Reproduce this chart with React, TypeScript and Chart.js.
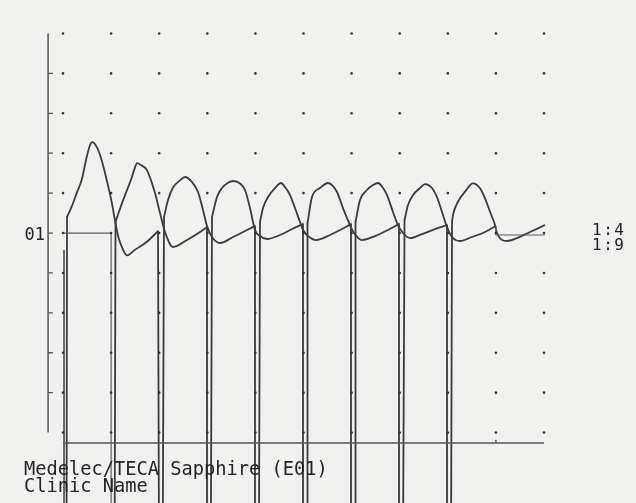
import { useEffect, useRef } from "react";
import { Chart, registerables } from "chart.js";

Chart.register(...registerables);

// Time in ms (20 ms per division), amplitude in mV (5 mV per division)
const GRID_TIMES = [0, 20, 40, 60, 80, 100, 120, 140, 160, 180, 200];
const GRID_AMPS = [-25, -20, -15, -10, -5, 0, 5, 10, 15, 20, 25];
const AXIS_TICK_AMPS = [-20, -15, -10, -5, 0, 5, 10, 15, 20];
const AXIS_TIME = -6.2;
const AXIS_TOP = 25;
const AXIS_BOTTOM = -25;
const BASE_AXIS_AMP = -26.3;
const ARTIFACT_MV = -40; // stimulus artefact runs off the bottom of the screen

const CHANNEL_LABEL = "01";
const GAIN_LABELS = ["1:4", "1:9"];
const FOOTER_LINES = ["Medelec/TECA Sapphire (E01)", "Clinic Name"];

const START_MARKER: [number, number][] = [[0, 0], [20, 0], [20, ARTIFACT_MV]];
const START_LINE: [number, number][] = [[0.42, -2.13], [0.42, ARTIFACT_MV]];
const END_MARKER: [number, number][] = [[180, 0.88], [180, -0.25], [200.4, -0.25]];

const RESPONSE_1: [number, number][] = [
  [1.46, ARTIFACT_MV], [1.66, 2.0], [3.6, 3.3], [5.7, 5.0], [7.8, 6.7], [9.9, 9.6],
  [11.2, 11.0], [12.1, 11.4], [14.0, 10.8], [16.1, 9.1], [18.2, 6.6], [20.3, 3.8],
  [21.6, 1.6], [23.0, -0.5], [25.0, -2.1], [26.6, -2.8], [29.9, -2.1], [34.9, -1.1],
  [39.5, 0.25], [39.92, ARTIFACT_MV],
];
const RESPONSE_2: [number, number][] = [
  [21.46, ARTIFACT_MV], [21.83, 1.4], [24.0, 3.3], [26.1, 5.0], [28.3, 6.7],
  [29.7, 8.0], [30.8, 8.77], [32.5, 8.5], [34.9, 7.89], [38.25, 5.01], [40.33, 2.51],
  [42.41, 0.13], [45.74, -1.75], [51.56, -0.88], [56.96, 0.13], [59.88, 0.75], [60.08, ARTIFACT_MV],
];
const RESPONSE_3: [number, number][] = [
  [41.45, ARTIFACT_MV], [42.0, 2.0], [43.66, 4.14], [45.74, 5.7], [48.65, 6.6], [50.73, 7.02],
  [53.64, 6.39], [56.13, 5.14], [58.21, 2.88], [59.88, 0.88], [61.95, -0.5], [65.28, -1.25],
  [70.69, -0.5], [76.51, 0.38], [79.83, 0.88], [80.04, ARTIFACT_MV],
];
const RESPONSE_4: [number, number][] = [
  [61.45, ARTIFACT_MV], [61.95, 2.0], [64.03, 4.51], [66.11, 5.64], [68.61, 6.3], [70.69, 6.52],
  [73.6, 6.2], [75.68, 5.39], [77.75, 3.13], [79.83, 0.38], [81.91, -0.38], [84.82, -0.75],
  [90.23, -0.25], [95.22, 0.5], [99.79, 1.13], [100.0, ARTIFACT_MV],
];
const RESPONSE_5: [number, number][] = [
  [81.45, ARTIFACT_MV], [81.91, 1.38], [83.16, 3.13], [85.24, 4.51], [88.15, 5.64], [90.64, 6.27],
  [92.31, 5.76], [94.39, 4.76], [96.47, 3.13], [98.54, 1.38], [99.79, 0.38], [101.87, -0.38],
  [105.2, -0.88], [111.02, -0.25], [116.01, 0.5], [119.75, 1.13], [119.96, ARTIFACT_MV],
];
const RESPONSE_6: [number, number][] = [
  [101.46, ARTIFACT_MV], [101.66, 1.25], [103.53, 4.51], [106.86, 5.64], [110.19, 6.27],
  [112.27, 5.89], [113.93, 5.14], [116.42, 3.13], [119.33, 1.0], [121.0, 0.0], [124.32, -0.88],
  [129.73, -0.38], [135.14, 0.38], [139.71, 1.13], [139.92, ARTIFACT_MV],
];
const RESPONSE_7: [number, number][] = [
  [121.41, ARTIFACT_MV], [121.62, 1.38], [123.49, 4.14], [126.4, 5.39], [128.9, 6.01], [130.98, 6.27],
  [133.06, 5.64], [134.72, 4.76], [137.21, 2.63], [139.29, 1.0], [141.37, 0.0], [144.28, -0.63],
  [149.27, -0.13], [154.68, 0.5], [159.67, 1.0], [159.87, ARTIFACT_MV],
];
const RESPONSE_8: [number, number][] = [
  [141.37, ARTIFACT_MV], [142.0, 1.63], [143.45, 3.51], [145.53, 4.76], [148.44, 5.64], [150.52, 6.14],
  [153.43, 5.64], [155.51, 4.51], [157.59, 2.63], [159.67, 0.75], [161.75, -0.5], [165.07, -1.0],
  [170.06, -0.5], [175.47, 0.13], [180.0, 0.88],
];
const RESPONSE_9: [number, number][] = [
  [161.33, ARTIFACT_MV], [161.75, 1.38], [162.16, 2.26], [164.24, 3.92], [167.15, 5.18], [170.48, 6.23],
  [173.39, 5.6], [175.47, 4.35], [177.55, 2.67], [179.63, 1.0], [180.46, 0.0], [184.62, -1.0],
  [188.77, -0.63], [194.18, 0.13], [200.42, 1.0],
];

const RESPONSES = [
  RESPONSE_1, RESPONSE_2, RESPONSE_3, RESPONSE_4, RESPONSE_5,
  RESPONSE_6, RESPONSE_7, RESPONSE_8, RESPONSE_9,
];

const X_MIN = -26.2;
const X_MAX = 238.25;
const Y_MIN = -33.83;
const Y_MAX = 29.2;

const toXY = (pts: [number, number][]) => pts.map(([x, y]) => ({ x, y }));

// split a sweep into its straight stimulus-artefact strokes and its smooth waveform
const splitSweep = (pts: [number, number][]) => {
  const isArt = (p: [number, number]) => p[1] === ARTIFACT_MV;
  const wave = pts.filter((p) => !isArt(p));
  const strokes: { x: number; y: number | null }[] = [];
  pts.forEach((p, i) => {
    if (!isArt(p)) return;
    const nb = i === 0 ? pts[1] : pts[i - 1];
    strokes.push({ x: p[0], y: p[1] }, { x: nb[0], y: nb[1] }, { x: nb[0], y: null });
  });
  return { wave: toXY(wave), strokes };
};

const textPlugin = {
  id: "printoutText",
  beforeDraw(chart: any) {
    const { ctx, width, height } = chart;
    ctx.save();
    ctx.fillStyle = "#f1f1f0";
    ctx.fillRect(0, 0, width, height);
    ctx.restore();
  },
  afterDatasetsDraw(chart: any) {
    const { ctx } = chart;
    const xs = chart.scales.x;
    const ys = chart.scales.y;
    ctx.save();
    ctx.fillStyle = "#242424";
    ctx.textBaseline = "alphabetic";

    ctx.font = '17px "DejaVu Sans Mono", monospace';
    ctx.textAlign = "right";
    ctx.fillText(CHANNEL_LABEL, xs.getPixelForValue(-7.5), ys.getPixelForValue(-0.88));

    ctx.textAlign = "left";
    ctx.font = '16px "DejaVu Sans Mono", monospace';
    try { (ctx as any).letterSpacing = "1.5px"; } catch (e) {}
    GAIN_LABELS.forEach((t, i) => {
      ctx.fillText(t, xs.getPixelForValue(220), ys.getPixelForValue(-0.25 - i * 1.88));
    });
    try { (ctx as any).letterSpacing = "0px"; } catch (e) {}

    ctx.font = '18.7px "DejaVu Sans Mono", monospace';
    FOOTER_LINES.forEach((t, i) => {
      ctx.fillText(t, xs.getPixelForValue(-16.2), ys.getPixelForValue(-30.3 - i * 2.13));
    });
    ctx.restore();
  },
};

export default function App() {
  const ref = useRef<HTMLCanvasElement | null>(null);

  useEffect(() => {
    if (!ref.current) return;
    const lineColor = "#3c3c3c";

    const dots: { x: number; y: number }[] = [];
    GRID_TIMES.forEach((t) => GRID_AMPS.forEach((a) => dots.push({ x: t, y: a })));

    const ticks: { x: number; y: number | null }[] = [];
    AXIS_TICK_AMPS.forEach((a) => {
      ticks.push({ x: AXIS_TIME, y: a }, { x: AXIS_TIME + 2.0, y: a }, { x: AXIS_TIME + 2.0, y: null });
    });

    const sweepSets: any[] = [];
    RESPONSES.forEach((r) => {
      const { wave, strokes } = splitSweep(r);
      sweepSets.push({
        data: wave, borderColor: lineColor, borderWidth: 1.8, pointRadius: 0,
        borderJoinStyle: "round", cubicInterpolationMode: "monotone",
      });
      sweepSets.push({
        data: strokes, borderColor: lineColor, borderWidth: 1.8, pointRadius: 0,
        spanGaps: false, borderCapStyle: "round",
      });
    });

    const datasets: any[] = [
      {
        data: dots, showLine: false, pointRadius: 1.3, pointBorderWidth: 0,
        pointBackgroundColor: "#333", borderColor: "#333",
      },
      {
        data: [{ x: AXIS_TIME, y: AXIS_TOP }, { x: AXIS_TIME, y: AXIS_BOTTOM }],
        borderColor: "#555", borderWidth: 1.5, pointRadius: 0,
      },
      { data: ticks, borderColor: "#555", borderWidth: 1.3, pointRadius: 0, spanGaps: false },
      {
        data: [
          { x: GRID_TIMES[0], y: BASE_AXIS_AMP },
          { x: GRID_TIMES[GRID_TIMES.length - 1], y: BASE_AXIS_AMP },
          { x: GRID_TIMES[GRID_TIMES.length - 1], y: null },
          { x: 180, y: BASE_AXIS_AMP },
          { x: 180, y: BASE_AXIS_AMP + 0.4 },
        ],
        borderColor: "#555", borderWidth: 1.5, pointRadius: 0, spanGaps: false,
      },
      { data: toXY(START_MARKER), borderColor: "#5c5c5c", borderWidth: 1.2, pointRadius: 0 },
      { data: toXY(START_LINE), borderColor: "#4c4c4c", borderWidth: 1.6, pointRadius: 0 },
      { data: toXY(END_MARKER), borderColor: "#5c5c5c", borderWidth: 1.2, pointRadius: 0 },
      ...sweepSets,
    ];

    const chart = new Chart(ref.current, {
      type: "line",
      data: { datasets },
      options: {
        animation: false,
        responsive: false,
        events: [],
        layout: { padding: 0, autoPadding: false },
        elements: { line: { tension: 0 }, point: { radius: 0 } },
        plugins: { legend: { display: false }, tooltip: { enabled: false } },
        scales: {
          x: { type: "linear", min: X_MIN, max: X_MAX, display: false },
          y: { type: "linear", min: Y_MIN, max: Y_MAX, display: false },
        },
      },
      plugins: [textPlugin],
    } as any);
    return () => chart.destroy();
  }, []);

  return (
    <div style={{ position: "fixed", left: 0, top: 0, width: 636, height: 503 }}>
      <canvas ref={ref} width={636} height={503} style={{ width: 636, height: 503, display: "block" }} />
    </div>
  );
}
